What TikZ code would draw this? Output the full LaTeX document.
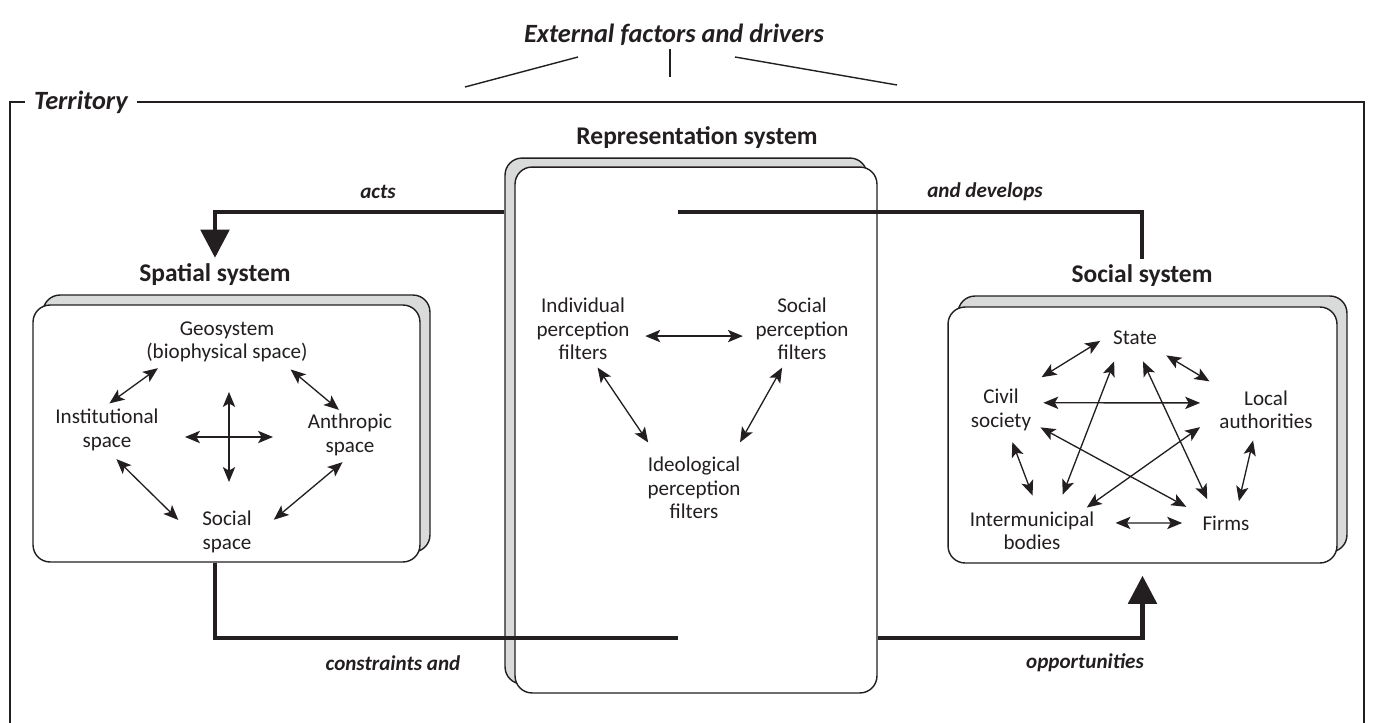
\documentclass[tikz,border=0pt]{standalone}
\usepackage{fontspec}
\setmainfont{Carlito}
\usetikzlibrary{arrows.meta,calc}

\definecolor{ink}{RGB}{35,31,32}
\definecolor{shade}{RGB}{217,218,218}

\tikzset{
	heading/.style={font=\fontsize{14.5}{17}\selectfont\bfseries},
	flowtxt/.style={font=\fontsize{12}{14}\selectfont\bfseries\itshape},
	txt/.style={align=center, inner sep=2pt, font=\fontsize{12}{13.3}\selectfont},
	sysbox/.style={draw=ink, fill=white, line width=0.8pt, rounded corners=0.34cm, inner sep=0pt},
	sysshadow/.style={sysbox, fill=shade},
	link/.style={draw=ink, line width=0.75pt, {Stealth[length=8.5pt,width=7pt,inset=2pt]}-{Stealth[length=8.5pt,width=7pt,inset=2pt]}},
	flow/.style={draw=ink, line width=2.8pt},
	flowtip/.style={flow, -{Triangle[length=16pt,width=16pt]}}
}

\begin{document}
\begin{tikzpicture}[x=0.02cm, y=-0.02cm, text=ink]
	\useasboundingbox (0,0) rectangle (1376,723);

	% Territory
	\draw[ink, line width=0.8pt] (10,740) |- (1364,102) -- (1364,740);
	\node[fill=white, inner xsep=5pt, inner ysep=1pt, font=\fontsize{15}{18}\selectfont\bfseries\itshape] (territory) at (81,102) {Territory};

	% External factors
	\node[font=\fontsize{15}{18}\selectfont\bfseries\itshape] (title) at (674,35) {External factors and drivers};
	\coordinate (extLa) at (578,57);
	\coordinate (extLb) at (465,87);
	\coordinate (extMa) at (670,49);
	\coordinate (extMb) at (670,77);
	\coordinate (extRa) at (735,57);
	\coordinate (extRb) at (897,85);
	\foreach \a/\b in {extLa/extLb, extMa/extMb, extRa/extRb}
		\draw[ink, line width=0.8pt] (\a) -- (\b);

	% Boxes, shadow first
	\node[sysshadow, minimum width=7.74cm, minimum height=5.14cm] (spatialbk) at (236.5,423.5) {};
	\node[sysbox, minimum width=7.74cm, minimum height=5.14cm] (spatial) at (226.5,433.5) {};
	\node[sysshadow, minimum width=7.24cm, minimum height=10.52cm] (repbk) at (686,421) {};
	\node[sysbox, minimum width=7.24cm, minimum height=10.52cm] (rep) at (696,430) {};
	\node[sysshadow, minimum width=7.78cm, minimum height=5.12cm] (socialbk) at (1152.5,424) {};
	\node[sysbox, minimum width=7.78cm, minimum height=5.12cm] (social) at (1142.5,435) {};

	\node[heading] (spatiallbl) at (215,275) {Spatial system};
	\node[heading] (replbl) at (697,138) {Representation system};
	\node[heading] (sociallbl) at (1142,276) {Social system};

	% Flows
	\coordinate (devstart) at (678,212);
	\coordinate (conend) at (678,638);
	\draw[flowtip] (repbk.west |- 0,212) -| (spatiallbl.north);
	\draw[flow] (devstart) -| (sociallbl.north);
	\draw[flow] (spatiallbl |- spatial.south) |- (conend);
	\draw[flowtip, shorten >=0.24cm] (rep.east |- conend) -| (social.south);

	\node[flowtxt] (actslbl) at (378,192) {acts};
	\node[flowtxt] (devlbl) at (985,192) {and develops};
	\node[flowtxt] (conlbl) at (393,663) {constraints and};
	\node[flowtxt] (opplbl) at (1085,663) {opportunities};

	% Spatial system
	\node[txt] (geo) at (227,342) {Geosystem\\(biophysical space)};
	\node[txt] (inst) at (107,430) {Institutional\\space};
	\node[txt] (anth) at (350,435) {Anthropic\\space};
	\node[txt] (soc) at (227,532) {Social\\space};
	\coordinate (hub) at (229,437);
	\draw[link, shorten <=2pt, shorten >=2pt] (inst.91) -- (geo.200);
	\draw[link, shorten <=3pt, shorten >=0.5pt] (geo.338) -- (anth.113);
	\draw[link, shorten <=3.7pt, shorten >=16pt] (inst.281) -- (soc.195);
	\draw[link, shorten <=2.3pt, shorten >=13.5pt] (anth.260) -- (soc.354);
	\draw[link] ($(hub)+(-44,0)$) -- ($(hub)+(44,0)$);
	\draw[link] ($(hub)+(0,-45)$) -- ($(hub)+(0,45)$);

	% Representation system
	\node[txt] (ind) at (583,329) {Individual\\perception\\filters};
	\node[txt] (socf) at (802,329) {Social\\perception\\filters};
	\node[txt] (ideo) at (694,488) {Ideological\\perception\\filters};
	\draw[link, shorten <=6.8pt, shorten >=5pt] (ind.-8) -- (socf.188);
	\draw[link, shorten <=2.7pt, shorten >=7.5pt] (ind.289) -- (ideo.138);
	\draw[link, shorten <=2.6pt, shorten >=7.2pt] (socf.243) -- (ideo.41);

	% Social system
	\node[txt] (state) at (1135,338) {State};
	\node[txt] (civil) at (1001,410) {Civil\\society};
	\node[txt] (local) at (1266,410) {Local\\authorities};
	\node[txt] (inter) at (1032,531) {Intermunicipal\\bodies};
	\node[txt] (firms) at (1226,523) {Firms};
	\foreach \a/\b/\s/\e in {civil.42/state.174/8.9pt/6.1pt,
			state.-28/local.154/7.3pt/6.3pt,
			civil.12/local.172/4.8pt/8.8pt,
			state.214/inter.42/7.7pt/8.2pt,
			state.281/firms.139/7.9pt/7.9pt,
			civil.-23/firms.161/3.6pt/8pt,
			local.187/inter.23/10.8pt/0.5pt,
			local.244/firms.47/4.4pt/6.2pt,
			civil.289/inter.77/4.6pt/7.6pt,
			inter.7/firms.180/9.9pt/9.4pt}
		\draw[link, shorten <=\s, shorten >=\e] (\a) -- (\b);
\end{tikzpicture}
\end{document}
